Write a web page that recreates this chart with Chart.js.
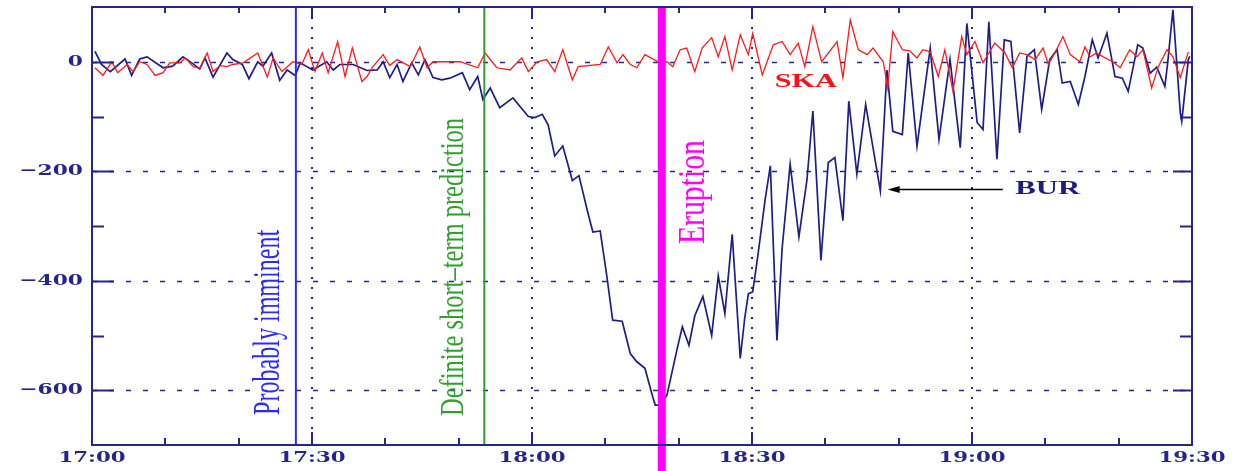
<!DOCTYPE html>
<html>
<head>
<meta charset="utf-8">
<script src="https://cdn.jsdelivr.net/npm/chart.js@4.4.0/dist/chart.umd.min.js"></script>
<style>
  html, body { margin: 0; padding: 0; background: #fff; }
  canvas { display: block; }
</style>
</head>
<body>
<canvas id="chart" width="1243" height="471"></canvas>
<script>
// time axis is minutes after 17:00
const burTimes = [0.4,1.3,2.5,4.5,5.4,6.5,7.5,9.7,11.0,12.4,
  13.6,14.7,15.4,16.5,18.4,19.2,20.5,21.4,22.6,23.3,
  24.5,25.6,26.6,27.7,28.4,30.1,32.0,32.9,33.8,35.6,
  37.5,38.9,39.7,40.6,41.6,42.4,43.6,44.5,45.4,46.5,
  47.7,48.8,50.5,51.5,52.6,53.3,54.3,55.6,57.4,59.5,
  60.4,61.4,62.2,63.1,64.2,65.5,66.4,67.6,68.3,69.3,
  70.2,71.0,72.3,73.4,74.3,75.4,76.4,76.8,77.5,78.4,
  79.8,80.5,81.4,82.2,83.3,84.5,85.4,86.3,87.3,88.4,
  89.0,89.5,90.1,90.8,91.8,92.5,93.4,94.1,95.2,96.4,
  97.5,98.3,99.4,100.4,101.3,102.4,103.2,104.3,105.5,107.5,
  108.4,109.2,110.5,111.3,112.5,114.3,115.5,117.0,118.4,119.3,
  120.7,121.5,122.3,123.4,124.4,125.3,126.5,127.5,128.5,129.5,
  130.6,131.6,132.3,133.4,134.5,135.4,136.4,137.2,138.4,139.5,
  140.5,141.3,142.6,143.3,144.3,145.2,146.3,146.7,147.4,148.4,
  148.6,149.5,149.7];
const burValues = [19,-5,-18,5,-25,5,9,-11,-8,9,
  -2,-13,7,-28,16,4,-5,-31,0,-8,
  16,-34,-15,-25,-2,-15,0,-15,-5,-5,
  -16,-15,0,-29,-5,-36,-2,-24,4,-29,
  -33,-30,-20,-51,-27,-69,-48,-84,-66,-100,
  -102,-96,-115,-172,-154,-217,-208,-275,-311,-309,
  -391,-472,-474,-533,-548,-560,-609,-627,-627,-609,
  -524,-484,-518,-464,-429,-500,-391,-460,-315,-542,
  -469,-424,-420,-354,-251,-190,-509,-342,-187,-320,
  -215,-90,-363,-184,-175,-290,-72,-205,-78,-236,
  -15,-127,-133,16,-154,25,-142,4,-157,70,
  -111,-124,73,-178,40,37,-130,10,22,-87,
  4,22,-39,-36,-78,-27,40,7,52,-27,
  -30,-54,31,25,-21,-10,-45,0,95,-93,
  -109,4,10];

const skaTimes = [0.4,1.5,2.7,3.5,4.8,5.6,6.5,7.5,8.6,9.7,
  10.6,12.0,12.7,13.8,14.7,15.7,16.5,17.5,18.4,19.2,
  20.6,22.6,23.9,24.7,25.9,27.4,28.6,29.5,30.4,31.4,
  32.2,33.5,34.5,35.5,36.8,37.5,38.3,39.7,40.6,41.6,
  43.4,44.7,45.7,46.5,50.2,52.6,53.6,55.2,57.0,58.6,
  59.5,60.7,62.0,63.1,64.2,65.5,66.3,69.3,70.4,71.6,
  72.4,73.4,74.3,75.4,77.2,78.4,79.2,80.2,81.1,82.2,
  83.2,84.5,85.4,86.3,87.3,88.4,89.5,90.1,91.4,92.9,
  94.1,95.2,96.3,97.2,98.3,99.5,101.6,102.4,103.4,104.5,
  105.7,106.5,107.9,108.5,109.2,110.5,111.5,112.5,113.3,114.3,
  115.4,116.3,117.4,118.6,119.3,120.4,121.5,123.1,124.5,125.5,
  126.5,127.5,128.6,129.7,130.4,131.3,132.4,133.4,134.7,135.4,
  136.1,137.0,137.9,139.2,140.2,141.5,142.5,143.3,144.5,145.4,
  146.6,147.4,148.4,149.5];
const skaValues = [-11,-25,0,-20,-5,-18,0,-5,-25,-20,
  -2,-2,7,-9,-12,16,-18,-7,-9,-5,
  -2,16,-28,7,-18,0,-5,22,-18,16,
  -20,37,-27,25,-36,-27,-9,13,-7,4,
  -9,27,-11,0,0,-11,16,-11,-15,7,
  -18,0,4,-18,22,-33,-9,-5,27,-2,
  13,-5,-11,13,0,0,-9,22,25,-18,
  25,44,9,46,-15,49,13,52,-24,31,
  37,13,34,-9,64,0,37,-29,76,22,
  13,25,0,-48,55,22,20,7,22,18,
  -27,22,-54,46,13,37,-2,34,16,-11,
  16,13,4,25,-5,16,46,13,0,27,
  9,16,9,0,-11,22,9,22,-48,-9,
  22,9,-29,18];

const xTicks = [0, 30, 60, 90, 120, 150];
const xTickLabels = ["17:00", "17:30", "18:00", "18:30", "19:00", "19:30"];
const yTicks = [0, -200, -400, -600];
const yTickLabels = ["0", "\u2212200", "\u2212400", "\u2212600"];

// warning / eruption times and their captions
const eventTimes = [27.8, 53.5, 77.7];
const eventLabels = ["Probably imminent", "Definite short\u2013term prediction", "Eruption"];

const ink = "#25258c";
const eventStyle = [
  { color: "#2a2aff", width: 2, toBottom: false, capT: 25.5, capV: -645, len: 185, size: 38 },
  { color: "#2f9f2f", width: 2, toBottom: false, capT: 50.6, capV: -647, len: 298, size: 33 },
  { color: "#ff00ff", width: 8, toBottom: true, capT: 83.5, capV: -333, len: 104, size: 38 }
];

function wideText(ctx, text, x, y, sx, align) {
  ctx.save();
  ctx.translate(x, y);
  ctx.scale(sx, 1);
  ctx.textAlign = align;
  ctx.fillText(text, 0, 0);
  ctx.restore();
}

// text reading upwards from (x, y), squeezed to a given length
function upText(ctx, text, x, y, len) {
  ctx.save();
  ctx.translate(x, y);
  ctx.rotate(-Math.PI / 2);
  const w = ctx.measureText(text).width;
  ctx.scale(len / w, 1);
  ctx.textAlign = "left";
  ctx.textBaseline = "alphabetic";
  ctx.fillText(text, 0, 0);
  ctx.restore();
}

const plotDecor = {
  id: "plotDecor",
  beforeDatasetsDraw(chart) {
    const { ctx, chartArea: a, scales: { x, y } } = chart;
    ctx.save();
    ctx.strokeStyle = ink;
    // dashed horizontal grid
    ctx.lineWidth = 1.5;
    ctx.setLineDash([5, 12]);
    yTicks.forEach((v) => {
      const py = Math.round(y.getPixelForValue(v)) + 0.5;
      ctx.beginPath();
      ctx.moveTo(a.left, py);
      ctx.lineTo(a.right, py);
      ctx.stroke();
    });
    // dotted vertical grid
    ctx.lineWidth = 2;
    ctx.setLineDash([2, 8]);
    xTicks.slice(1, -1).forEach((t) => {
      const px = Math.round(x.getPixelForValue(t));
      ctx.beginPath();
      ctx.moveTo(px, a.top);
      ctx.lineTo(px, a.bottom);
      ctx.stroke();
    });
    ctx.restore();
  },
  afterDatasetsDraw(chart) {
    const { ctx, chartArea: a, scales: { x, y } } = chart;
    ctx.save();
    eventTimes.forEach((t, i) => {
      const s = eventStyle[i];
      const px = x.getPixelForValue(t);
      ctx.strokeStyle = s.color;
      ctx.lineWidth = s.width;
      ctx.beginPath();
      ctx.moveTo(px, a.top);
      ctx.lineTo(px, s.toBottom ? chart.height : a.bottom);
      ctx.stroke();
      ctx.fillStyle = s.color;
      ctx.font = s.size + "px 'Liberation Serif'";
      upText(ctx, eventLabels[i], x.getPixelForValue(s.capT), y.getPixelForValue(s.capV), s.len);
    });

    // station names
    ctx.textBaseline = "alphabetic";
    ctx.font = "bold 19px 'Liberation Serif'";
    ctx.fillStyle = "#ff1010";
    let w = ctx.measureText("SKA").width;
    wideText(ctx, "SKA", x.getPixelForValue(93.1), y.getPixelForValue(-47), 62 / w, "left");
    ctx.fillStyle = "#1c1c84";
    w = ctx.measureText("BUR").width;
    wideText(ctx, "BUR", x.getPixelForValue(125.9), y.getPixelForValue(-242), 65 / w, "left");

    // arrow pointing at the BUR trough
    const ay = Math.round(y.getPixelForValue(-233)) + 0.5;
    const ax0 = x.getPixelForValue(124.2);
    const ax1 = x.getPixelForValue(108.5);
    ctx.strokeStyle = "#000";
    ctx.fillStyle = "#000";
    ctx.lineWidth = 1.5;
    ctx.beginPath();
    ctx.moveTo(ax0, ay);
    ctx.lineTo(ax1 + 6, ay);
    ctx.stroke();
    ctx.beginPath();
    ctx.moveTo(ax1, ay);
    ctx.lineTo(ax1 + 12, ay - 3.5);
    ctx.lineTo(ax1 + 12, ay + 3.5);
    ctx.closePath();
    ctx.fill();
    ctx.restore();
  },
  afterDraw(chart) {
    const { ctx, chartArea: a, scales: { x, y } } = chart;
    ctx.save();
    ctx.strokeStyle = ink;
    ctx.fillStyle = ink;
    ctx.setLineDash([]);
    ctx.lineWidth = 2;
    ctx.strokeRect(a.left, a.top, a.right - a.left, a.bottom - a.top);

    // inward ticks, majors every 30 min / 200, minors every 10 min / 100
    ctx.lineWidth = 2;
    ctx.beginPath();
    for (let t = 10; t < 150; t += 10) {
      const px = Math.round(x.getPixelForValue(t));
      const major = t % 30 === 0;
      ctx.moveTo(px, a.bottom);
      ctx.lineTo(px, a.bottom - (major ? 13 : 7));
      ctx.moveTo(px, a.top);
      ctx.lineTo(px, a.top + (major ? 10 : 6));
    }
    for (let v = 0; v >= -600; v -= 100) {
      const py = Math.round(y.getPixelForValue(v)) + 0.5;
      const major = v % 200 === 0;
      ctx.moveTo(a.left, py);
      ctx.lineTo(a.left + (major ? 22 : 12), py);
      ctx.moveTo(a.right, py);
      ctx.lineTo(a.right - (major ? 19 : 12), py);
    }
    ctx.stroke();

    // tick labels
    ctx.font = "bold 15px 'DejaVu Serif'";
    ctx.textBaseline = "middle";
    xTicks.forEach((t, i) => {
      wideText(ctx, xTickLabels[i], x.getPixelForValue(t), a.bottom + 13, 1.42, "center");
    });
    yTicks.forEach((v, i) => {
      wideText(ctx, yTickLabels[i], a.left - 9, y.getPixelForValue(v), 1.45, "right");
    });
    ctx.restore();
  }
};

new Chart(document.getElementById("chart"), {
  type: "line",
  data: {
    datasets: [
      {
        label: "SKA",
        data: skaTimes.map((t, i) => ({ x: t, y: skaValues[i] })),
        borderColor: "#ff1a1a",
        borderWidth: 1.3,
        pointRadius: 0,
        tension: 0
      },
      {
        label: "BUR",
        data: burTimes.map((t, i) => ({ x: t, y: burValues[i] })),
        borderColor: "#1e1e8a",
        borderWidth: 1.7,
        pointRadius: 0,
        tension: 0
      }
    ]
  },
  options: {
    responsive: false,
    animation: false,
    devicePixelRatio: 1,
    layout: { padding: { left: 92, right: 51, top: 7, bottom: 26 } },
    plugins: { legend: { display: false }, tooltip: { enabled: false } },
    scales: {
      x: { type: "linear", min: 0, max: 150, display: false },
      y: { type: "linear", min: -700, max: 100, display: false }
    }
  },
  plugins: [plotDecor]
});
</script>
</body>
</html>
